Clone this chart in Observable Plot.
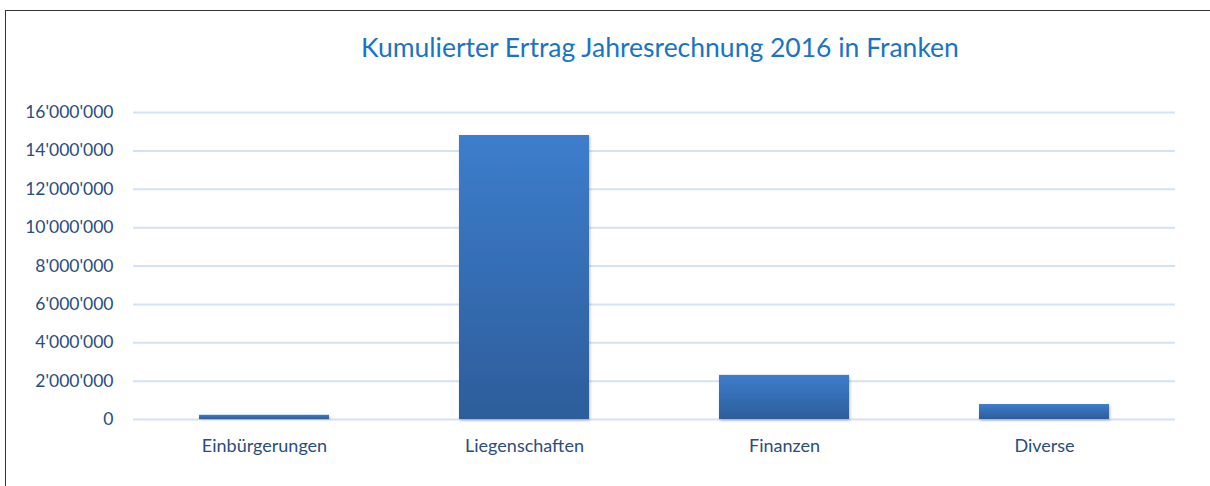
<!DOCTYPE html>
<html>
<head>
<meta charset="utf-8">
<script src="https://cdn.jsdelivr.net/npm/d3@7"></script>
<script src="https://cdn.jsdelivr.net/npm/@observablehq/plot@0.6"></script>
<style>
  html, body { margin: 0; padding: 0; background: #fff; }
  body { width: 1210px; height: 486px; overflow: hidden; position: relative; font-family: Lato, "Open Sans", sans-serif; }
  #frame { position: absolute; left: 5px; top: 10px; width: 1300px; height: 600px; border-left: 1px solid #333; border-top: 1px solid #333; }
  #title { position: absolute; left: 0; top: 0; width: 1210px; height: 90px; }
  #title div { position: absolute; left: 0; width: 1320px; top: 31px; text-align: center; font-size: 26.5px; color: #1874c4; }
  #chart { position: absolute; left: 0; top: 90px; }
</style>
</head>
<body>
<div id="frame"></div>
<div id="title"><div>Kumulierter Ertrag Jahresrechnung 2016 in Franken</div></div>
<div id="chart"></div>
<script>
const categories = ["Einbürgerungen", "Liegenschaften", "Finanzen", "Diverse"];
const values = [220000, 14800000, 2300000, 780000];
const yTicks = [0, 2000000, 4000000, 6000000, 8000000, 10000000, 12000000, 14000000, 16000000];

const data = categories.map((c, i) => ({category: c, value: values[i]}));
const fmt = d3.formatLocale({thousands: "'", grouping: [3], decimal: ".", currency: ["", ""]}).format(",");

const defs = () => {
  const g = d3.create("svg:defs");
  const lg = g.append("linearGradient").attr("id", "barGrad").attr("x1", 0).attr("y1", 0).attr("x2", 0).attr("y2", 1);
  lg.append("stop").attr("offset", "0%").attr("stop-color", "#3d7dcc");
  lg.append("stop").attr("offset", "100%").attr("stop-color", "#2d5d9b");
  const f = g.append("filter").attr("id", "shadow").attr("x", "-10%").attr("y", "-10%").attr("width", "130%").attr("height", "130%");
  f.append("feDropShadow").attr("dx", 1).attr("dy", 1.5).attr("stdDeviation", 1.5).attr("flood-color", "#000").attr("flood-opacity", 0.25);
  return g.node();
};

const chart = Plot.plot({
  width: 1210,
  height: 396,
  marginLeft: 133,
  marginRight: 35,
  marginTop: 22,
  marginBottom: 67,
  style: {fontFamily: "Lato, 'Open Sans', sans-serif", fontSize: "18px", color: "#2a4d7c", background: "transparent"},
  x: {domain: categories, paddingInner: 0.5, paddingOuter: 0.25, label: null, tickSize: 0, tickPadding: 20},
  y: {domain: [0, 16000000], ticks: yTicks, tickFormat: fmt, label: null, tickSize: 0, tickPadding: 20},
  marks: [
    defs,
    Plot.ruleY(yTicks, {stroke: "#d5e2f3", strokeWidth: 2}),
    Plot.barY(data, {x: "category", y: "value", fill: "url(#barGrad)"}),
    Plot.axisY({ticks: yTicks, tickFormat: fmt, tickSize: 0, tickPadding: 20, fill: "#2a4d7c", fontSize: 17.5, label: null}),
    Plot.axisX({tickSize: 0, tickPadding: 20, fill: "#2a4d7c", fontSize: 18, label: null})
  ]
});
chart.querySelectorAll("g[aria-label='bar'] rect").forEach(r => r.setAttribute("filter", "url(#shadow)"));
document.getElementById("chart").appendChild(chart);
</script>
</body>
</html>
